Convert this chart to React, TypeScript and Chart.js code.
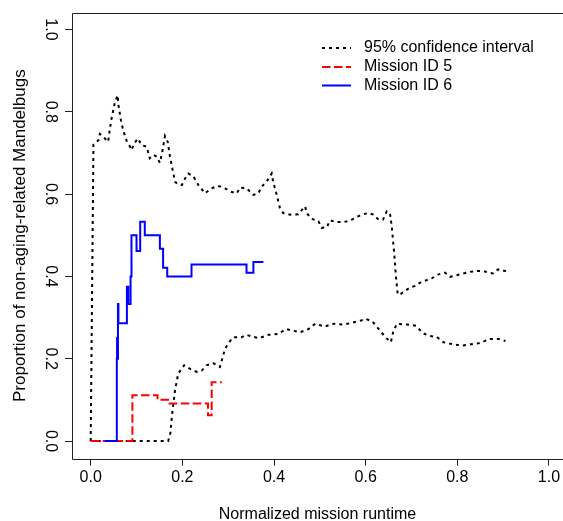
import { useEffect, useRef } from "react";
import { Chart, registerables } from "chart.js";

Chart.register(...registerables);

// ---------- data ----------
const xTickValues = [0, 0.2, 0.4, 0.6, 0.8, 1.0];
const yTickValues = [0, 0.2, 0.4, 0.6, 0.8, 1.0];
const legendLabels = ["95% confidence interval", "Mission ID 5", "Mission ID 6"];
const xAxisTitle = "Normalized mission runtime";
const yAxisTitle = "Proportion of non-aging-related Mandelbugs";

const upperX = [0, 0.006, 0.017, 0.020, 0.031, 0.038, 0.042, 0.046, 0.053, 0.059, 0.060, 0.066, 0.071, 0.079, 0.086, 0.089, 0.095, 0.103, 0.111, 0.122, 0.129, 0.137, 0.144, 0.151, 0.157, 0.162, 0.168, 0.173, 0.178, 0.184, 0.190, 0.199, 0.206, 0.213, 0.224, 0.235, 0.249, 0.264, 0.278, 0.293, 0.308, 0.319, 0.326, 0.340, 0.355, 0.366, 0.373, 0.384, 0.395, 0.398, 0.406, 0.413, 0.420, 0.435, 0.453, 0.464, 0.468, 0.471, 0.482, 0.497, 0.504, 0.515, 0.522, 0.537, 0.551, 0.562, 0.577, 0.591, 0.606, 0.617, 0.628, 0.638, 0.646, 0.653, 0.657, 0.662, 0.666, 0.670, 0.675, 0.686, 0.697, 0.708, 0.719, 0.733, 0.744, 0.759, 0.773, 0.784, 0.799, 0.813, 0.828, 0.842, 0.857, 0.868, 0.878, 0.889, 0.904, 0.908];
const upperY = [0, 0.720, 0.731, 0.746, 0.735, 0.727, 0.759, 0.787, 0.824, 0.840, 0.820, 0.779, 0.755, 0.727, 0.715, 0.707, 0.723, 0.735, 0.719, 0.715, 0.687, 0.695, 0.691, 0.676, 0.707, 0.741, 0.727, 0.691, 0.663, 0.630, 0.624, 0.622, 0.638, 0.650, 0.643, 0.622, 0.602, 0.614, 0.620, 0.614, 0.605, 0.602, 0.616, 0.614, 0.598, 0.602, 0.618, 0.630, 0.650, 0.630, 0.598, 0.566, 0.554, 0.550, 0.551, 0.566, 0.570, 0.554, 0.540, 0.534, 0.518, 0.519, 0.536, 0.532, 0.532, 0.534, 0.542, 0.550, 0.554, 0.550, 0.538, 0.538, 0.558, 0.554, 0.520, 0.460, 0.400, 0.356, 0.356, 0.365, 0.373, 0.377, 0.385, 0.391, 0.395, 0.405, 0.409, 0.399, 0.403, 0.407, 0.411, 0.413, 0.413, 0.409, 0.407, 0.417, 0.413, 0.415];

const lowerX = [0, 0.169, 0.174, 0.177, 0.184, 0.191, 0.204, 0.220, 0.232, 0.242, 0.253, 0.268, 0.282, 0.287, 0.293, 0.302, 0.311, 0.329, 0.340, 0.351, 0.368, 0.388, 0.409, 0.426, 0.442, 0.457, 0.475, 0.490, 0.510, 0.530, 0.550, 0.570, 0.590, 0.600, 0.615, 0.630, 0.645, 0.655, 0.660, 0.668, 0.690, 0.710, 0.725, 0.740, 0.755, 0.770, 0.790, 0.810, 0.830, 0.850, 0.870, 0.890, 0.905];
const lowerY = [0, 0, 0.020, 0.059, 0.123, 0.164, 0.184, 0.173, 0.168, 0.171, 0.184, 0.189, 0.180, 0.200, 0.224, 0.240, 0.252, 0.252, 0.258, 0.254, 0.250, 0.258, 0.260, 0.272, 0.268, 0.264, 0.272, 0.285, 0.278, 0.285, 0.283, 0.287, 0.293, 0.297, 0.290, 0.270, 0.250, 0.240, 0.265, 0.285, 0.283, 0.280, 0.262, 0.255, 0.253, 0.240, 0.235, 0.232, 0.235, 0.238, 0.248, 0.248, 0.243];

const mission5X = [0, 0.091, 0.146, 0.172, 0.256, 0.264, 0.286];
const mission5Y = [0, 0.111, 0.100, 0.091, 0.0625, 0.143, 0.143];

const mission6X = [0.031, 0.057, 0.0575, 0.058, 0.0595, 0.0605, 0.079, 0.082, 0.087, 0.089, 0.100, 0.108, 0.118, 0.151, 0.158, 0.167, 0.220, 0.340, 0.355, 0.377];
const mission6Y = [0, 0.2, 0.25, 0.2, 0.333, 0.286, 0.375, 0.333, 0.4, 0.5, 0.462, 0.533, 0.5, 0.467, 0.421, 0.4, 0.429, 0.409, 0.435, 0.435];

const FONT = "'Liberation Sans', Arial, Helvetica, sans-serif";

export default function App() {
  const ref = useRef<HTMLCanvasElement>(null);

  useEffect(() => {
    const canvas = ref.current;
    if (!canvas) return;
    const pts = (xs: number[], ys: number[]) => xs.map((x, i) => ({ x, y: ys[i] }));

    const boxPlugin = {
      id: "rbox",
      afterDraw(chart: any) {
        const { ctx, chartArea } = chart;
        const l = Math.round(chartArea.left) + 0.5;
        const t = Math.round(chartArea.top) + 0.5;
        const b = Math.round(chartArea.bottom) + 0.5;
        ctx.save();
        ctx.strokeStyle = "#222";
        ctx.lineWidth = 1;
        ctx.beginPath();
        ctx.moveTo(chart.width + 5, t);
        ctx.lineTo(l, t);
        ctx.lineTo(l, b);
        ctx.lineTo(chart.width + 5, b);
        ctx.stroke();
        ctx.restore();
      },
    };

    const legendPlugin = {
      id: "rlegend",
      afterDraw(chart: any) {
        const { ctx } = chart;
        const ds = chart.data.datasets;
        const entries = [ds[3], ds[1], ds[0]];
        const rows = [48, 67, 85.5];
        ctx.save();
        ctx.font = `16px ${FONT}`;
        ctx.textBaseline = "middle";
        ctx.textAlign = "left";
        entries.forEach((d: any, i: number) => {
          ctx.beginPath();
          ctx.strokeStyle = d.borderColor;
          ctx.lineWidth = d.borderWidth;
          ctx.setLineDash(d.borderDash || []);
          ctx.moveTo(322, rows[i]);
          ctx.lineTo(351, rows[i]);
          ctx.stroke();
          ctx.setLineDash([]);
          ctx.fillStyle = "#000";
          ctx.fillText(legendLabels[i], 364, rows[i]);
        });
        ctx.restore();
      },
    };

    const common = { pointRadius: 0, pointHoverRadius: 0, fill: false, tension: 0 };

    const chart = new Chart(canvas, {
      type: "line",
      data: {
        datasets: [
          { ...common, label: legendLabels[2], data: pts(mission6X, mission6Y), borderColor: "#0000ff", borderWidth: 2, stepped: "before", order: 0 },
          { ...common, label: legendLabels[1], data: pts(mission5X, mission5Y), borderColor: "#ff0000", borderWidth: 2, borderDash: [8.5, 3.5], stepped: "before", order: 1 },
          { ...common, label: "lower", data: pts(lowerX, lowerY), borderColor: "#000000", borderWidth: 2, borderDash: [3, 4], order: 2 },
          { ...common, label: legendLabels[0], data: pts(upperX, upperY), borderColor: "#000000", borderWidth: 2, borderDash: [3, 4], order: 2 },
        ] as any,
      },
      options: {
        animation: false,
        responsive: false,
        devicePixelRatio: 1,
        events: [],
        layout: { padding: { top: 10, right: 0, bottom: 0, left: 0 } },
        plugins: { legend: { display: false }, tooltip: { enabled: false }, title: { display: false } },
        scales: {
          x: {
            type: "linear",
            min: -0.0408,
            max: 1.0306,
            afterFit(scale: any) { scale.height = 62.3; },
            afterBuildTicks(scale: any) { scale.ticks = xTickValues.map((v) => ({ value: v })); },
            grid: { display: true, drawOnChartArea: false, drawTicks: true, tickLength: 7, color: "#222", lineWidth: 1 },
            border: { display: false },
            ticks: {
              autoSkip: false,
              maxRotation: 0,
              minRotation: 0,
              padding: 2,
              color: "#000",
              font: { family: FONT, size: 16 },
              callback: (v: any) => Number(v).toFixed(1),
            },
            title: { display: true, text: xAxisTitle, color: "#000", font: { family: FONT, size: 16 }, padding: { top: 0, bottom: -3 } },
          },
          y: {
            type: "linear",
            min: -0.043,
            max: 1.041,
            afterFit(scale: any) { scale.width = 72; },
            afterBuildTicks(scale: any) { scale.ticks = yTickValues.map((v) => ({ value: v })); },
            grid: { display: true, drawOnChartArea: false, drawTicks: true, tickLength: 7, color: "#222", lineWidth: 1 },
            border: { display: false },
            ticks: {
              autoSkip: false,
              minRotation: -90,
              maxRotation: -90,
              crossAlign: "center",
              padding: 3,
              color: "#000",
              font: { family: FONT, size: 16 },
              callback: (v: any) => Number(v).toFixed(1),
            },
            title: { display: true, text: yAxisTitle, color: "#000", font: { family: FONT, size: 17 }, padding: { top: 10, bottom: 0 } },
          },
        },
      } as any,
      plugins: [boxPlugin, legendPlugin],
    });
    return () => chart.destroy();
  }, []);

  return (
    <div style={{ position: "fixed", left: 0, top: 0, width: 563, height: 521, background: "#fff" }}>
      <canvas ref={ref} width={563} height={521} style={{ display: "block" }} />
    </div>
  );
}
